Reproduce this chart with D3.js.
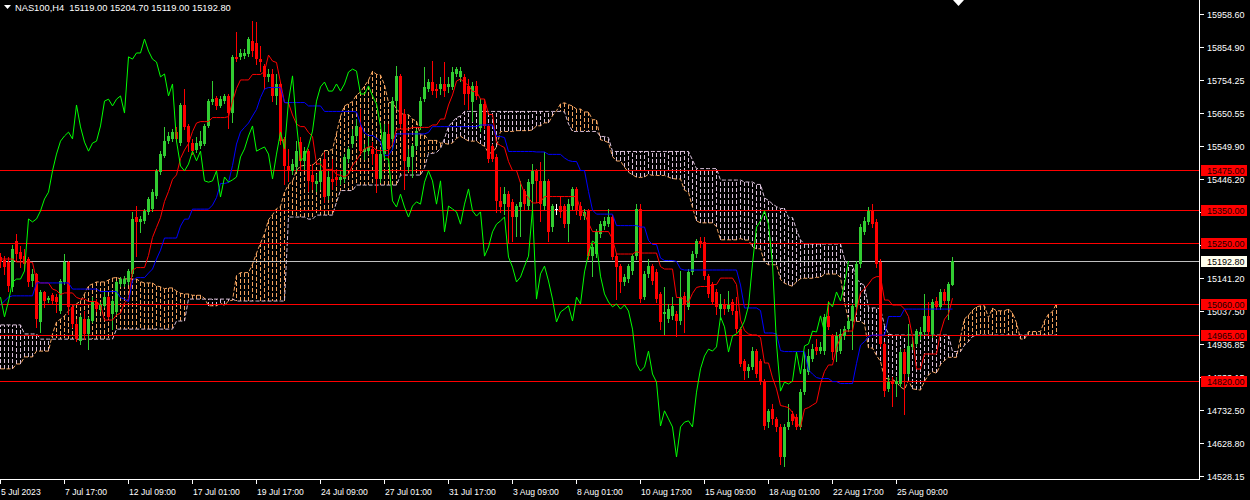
<!DOCTYPE html>
<html><head><meta charset="utf-8">
<script src="https://cdn.jsdelivr.net/npm/d3@7"></script>
<style>body{margin:0;background:#000;overflow:hidden}svg{display:block}</style>
</head><body><svg id="c" width="1250" height="500"></svg>
<script>
const opens=[15205,15196,15190,15112,15255,15221,15208,15199,15131,15153,15004,15097,15072,15088,15081,15038,15128,15190,15051,14998,14945,15013,14967,15007,15066,15041,15054,15081,15029,15035,15122,15122,15128,15153,15329,15314,15317,15345,15354,15394,15468,15518,15564,15571,15592,15558,15676,15611,15558,15537,15549,15555,15611,15685,15698,15673,15688,15704,15651,15825,15825,15828,15834,15874,15868,15818,15797,15763,15772,15704,15741,15571,15487,15472,15484,15561,15503,15533,15459,15431,15437,15509,15394,15447,15453,15444,15447,15509,15555,15580,15608,15530,15533,15540,15524,15447,15524,15586,15571,15688,15766,15648,15484,15515,15549,15611,15694,15725,15747,15725,15725,15741,15732,15732,15772,15763,15763,15735,15685,15735,15604,15679,15611,15549,15515,15379,15369,15400,15376,15329,15360,15410,15363,15431,15472,15441,15363,15441,15298,15354,15363,15363,15307,15363,15416,15363,15332,15348,15208,15215,15277,15301,15307,15329,15208,15177,15128,15137,15162,15208,15354,15081,15153,15177,15159,15091,15029,15013,15023,15029,15007,15085,15051,15159,15215,15255,15252,15146,15122,15097,15044,15057,15044,15066,15038,14982,14883,14852,14865,14914,14883,14818,14694,14735,14704,14679,14586,14679,14719,14710,14679,14787,14849,14890,14927,14914,14914,15023,14961,14911,14914,14961,14982,15007,15051,15184,15283,15314,15348,15314,15190,14936,14797,14821,14812,14812,14911,14843,14927,14936,14967,14973,15023,14967,15069,15051,15097,15069,15119];
const highs=[15218,15208,15205,15242,15277,15239,15230,15205,15168,15156,15103,15100,15085,15094,15091,15137,15215,15193,15057,15013,15026,15038,15020,15081,15075,15066,15100,15085,15075,15131,15143,15146,15168,15345,15363,15332,15354,15391,15416,15478,15533,15608,15592,15602,15608,15682,15725,15617,15571,15577,15595,15617,15694,15750,15704,15704,15710,15710,15831,15902,15849,15849,15886,15936,15933,15859,15803,15787,15787,15772,15747,15577,15540,15509,15564,15577,15546,15540,15493,15462,15503,15530,15472,15509,15478,15472,15524,15546,15602,15633,15664,15555,15577,15561,15540,15540,15617,15617,15701,15797,15772,15664,15540,15555,15602,15701,15794,15756,15812,15741,15763,15809,15763,15794,15794,15794,15772,15756,15747,15750,15694,15694,15617,15555,15524,15422,15422,15410,15385,15369,15441,15416,15447,15493,15478,15499,15530,15447,15369,15369,15394,15369,15385,15422,15422,15376,15354,15354,15246,15292,15317,15329,15354,15335,15215,15184,15153,15184,15215,15369,15369,15162,15199,15184,15168,15097,15112,15060,15081,15038,15162,15097,15168,15224,15261,15267,15267,15153,15128,15106,15091,15075,15100,15075,15081,14989,14890,14874,14927,14920,14890,14828,14735,14750,14710,14688,14688,14750,14729,14719,14797,14911,14920,14936,14951,14942,15029,15069,14967,14973,14982,14992,15020,15060,15193,15307,15329,15360,15369,15323,15199,14942,14834,14834,14834,14920,14920,14998,14951,14982,14989,15091,15066,15075,15081,15106,15106,15128,15204.7];
const lows=[15174,15153,15100,15100,15193,15174,15168,15116,15116,14989,14973,15051,15066,15063,15035,15032,15122,15029,14989,14945,14936,14951,14920,15004,15038,15038,15051,15016,14982,15029,15116,15116,15122,15146,15208,15283,15311,15338,15348,15388,15462,15515,15558,15564,15564,15552,15602,15533,15524,15530,15543,15552,15608,15679,15664,15670,15682,15605,15623,15812,15818,15821,15828,15828,15803,15781,15725,15750,15688,15679,15555,15431,15441,15462,15472,15478,15478,15410,15416,15410,15416,15376,15385,15416,15428,15431,15437,15499,15546,15571,15524,15509,15524,15493,15406,15437,15515,15509,15540,15664,15608,15416,15472,15453,15540,15602,15688,15719,15710,15701,15710,15704,15716,15725,15766,15750,15679,15664,15626,15694,15595,15605,15499,15503,15345,15345,15338,15252,15255,15270,15270,15354,15354,15348,15376,15317,15354,15255,15286,15338,15329,15298,15255,15354,15338,15323,15323,15199,15146,15205,15267,15292,15301,15199,15075,15097,15119,15128,15153,15199,15066,15075,15143,15122,15066,14982,14967,15004,15013,14961,14998,14973,15044,15153,15205,15236,15137,15081,15060,15029,15013,15029,15038,15029,14973,14868,14828,14834,14859,14834,14812,14673,14679,14688,14667,14564,14558,14673,14688,14673,14673,14781,14843,14883,14905,14908,14905,14982,14890,14883,14908,14951,14976,14920,15044,15174,15277,15307,15298,15174,14930,14775,14790,14744,14775,14806,14719,14837,14920,14930,14951,14967,14964,14958,15044,15044,15063,15013,15119];
const closes=[15190,15174,15116,15230,15215,15199,15184,15128,15153,15013,15097,15069,15078,15069,15066,15131,15190,15051,14998,14951,15020,14967,15013,15069,15044,15060,15081,15020,15069,15128,15137,15137,15162,15323,15314,15323,15348,15385,15406,15472,15524,15564,15580,15592,15571,15676,15608,15561,15533,15558,15564,15611,15688,15694,15673,15694,15704,15651,15825,15818,15837,15837,15880,15843,15818,15809,15763,15772,15704,15741,15564,15487,15472,15493,15533,15503,15533,15441,15437,15441,15472,15391,15453,15437,15444,15453,15515,15540,15580,15611,15533,15540,15546,15524,15447,15524,15592,15540,15688,15766,15617,15503,15515,15549,15595,15688,15732,15747,15719,15719,15741,15719,15741,15778,15787,15781,15710,15710,15735,15704,15679,15611,15509,15509,15379,15360,15400,15360,15329,15363,15376,15369,15437,15472,15441,15369,15441,15283,15363,15354,15345,15307,15369,15416,15348,15332,15345,15208,15236,15283,15307,15317,15329,15205,15174,15128,15143,15177,15208,15354,15075,15153,15177,15131,15075,15004,15035,15044,15054,15007,15081,15060,15159,15215,15255,15246,15146,15091,15066,15051,15060,15044,15057,15038,14982,14874,14852,14865,14914,14843,14818,14682,14729,14704,14679,14586,14679,14694,14698,14679,14787,14859,14899,14920,14914,14927,15020,14989,14911,14961,14967,14982,15007,15054,15184,15298,15317,15348,15307,15184,14936,14790,14818,14812,14821,14911,14843,14930,14936,14976,14973,15023,14973,15066,15051,15097,15069,15122,15192.8];
// Ichimoku values before enough history exists
const tenkanLead=[15199,15199,15199,15199,15190,15190,15190,15190];
const kijunLead=[15057,15069,15081,15085,15085,15085,15085,15085,15085,15125,15125,15125,15125,15125,15125,15125,15125,15125,15106,15106,15106,15106,15106,15106,15106];
const spanALead=[14859,14859,14859,14859,14874,14874,14896,14896,14896,14914,14914,14914,14914,14967,15004,15013,15023,15038,15051,15060,15069,15091,15116,15122,15128,15128];
const spanBLead=[14995,14995,14995,14995,14995,14995,14967,14967,14967,14967,14951,14951,14951,14951,14951,14951,14951,14951,14951,14951,14951,14951,14951,14951,14951,14951,14951,14951,14951,14982,14982,14982,14982,14982,14982,14982,14982,14982,14982,14982,14982,14982,14982,14982,15007,15007,15007,15075,15075,15075,15075,15075,15075,15075,15075,15075,15075,15075,15075,15069,15069,15069,15069,15069,15069,15069,15069,15069,15069,15069,15069,15069,15329,15329,15329,15329,15329];
const levels=[15475,15350,15250,15060,14965,14820];
const bid=15192.80;
const priceTicks=[15958.60,15854.90,15754.25,15650.55,15549.90,15446.20,15345.55,15241.85,15141.20,15037.50,14936.85,14833.15,14732.50,14628.80,14528.15];
const timeTickBars=[0,16,32,48,64,80,96,112,128,144,160,176,192,208,224];
const timeTickLabels=["5 Jul 2023","7 Jul 17:00","12 Jul 09:00","17 Jul 01:00","19 Jul 17:00","24 Jul 09:00","27 Jul 01:00","31 Jul 17:00","3 Aug 09:00","8 Aug 01:00","10 Aug 17:00","15 Aug 09:00","18 Aug 01:00","22 Aug 17:00","25 Aug 09:00"];
const title="NAS100,H4  15119.00 15204.70 15119.00 15192.80";

const svg=d3.select('#c');
const FONT='"Liberation Sans", Arial, sans-serif';
const plotR=1199, axisY=479;
const y=d3.scaleLinear().domain([14528.15,15958.6]).range([475.7,13.7]);
const x=d3.scaleLinear().domain([0,1]).range([0.5,4.5]);
const n=closes.length;

const tenkan=closes.map((_,i)=>i<8?tenkanLead[i]:(d3.max(highs.slice(i-8,i+1))+d3.min(lows.slice(i-8,i+1)))/2);
const kijun=closes.map((_,i)=>i<25?kijunLead[i]:(d3.max(highs.slice(i-25,i+1))+d3.min(lows.slice(i-25,i+1)))/2);
const spanA=[],spanB=[];
for(let j=0;j<n+26;j++){const k=j-26;
  spanA.push(j<26?spanALead[j]:(tenkan[k]+kijun[k])/2);
  spanB.push(j<77?spanBLead[j]:(d3.max(highs.slice(k-51,k+1))+d3.min(lows.slice(k-51,k+1)))/2);}

svg.append('rect').attr('width',1250).attr('height',500).attr('fill','#000');
svg.append('clipPath').attr('id','pc').append('rect').attr('x',0).attr('y',0).attr('width',plotR).attr('height',axisY);
const g=svg.append('g').attr('clip-path','url(#pc)');

// cloud hatch
g.append('g').attr('shape-rendering','crispEdges').selectAll('line').data(spanA).join('line')
 .attr('x1',(d,j)=>x(j)).attr('x2',(d,j)=>x(j))
 .attr('y1',d=>y(d)).attr('y2',(d,j)=>y(spanB[j]))
 .attr('stroke',(d,j)=>d>=spanB[j]?'#F4A460':'#D8BFD8').attr('stroke-width',1).attr('stroke-dasharray','4,2');
const lineGen=d3.line().x((d,j)=>x(j)).y(d=>y(d));
g.append('path').attr('d',lineGen(spanA)).attr('fill','none').attr('stroke','#F4A460').attr('stroke-dasharray','4,2');
g.append('path').attr('d',lineGen(spanB)).attr('fill','none').attr('stroke','#D8BFD8').attr('stroke-dasharray','4,2');

// horizontal levels as exact 1px rects
levels.forEach(l=>g.append('rect').attr('x',0).attr('width',plotR).attr('y',Math.round(y(l))).attr('height',1).attr('fill','#FF0000'));
g.append('rect').attr('x',0).attr('width',plotR).attr('y',Math.round(y(bid))).attr('height',1).attr('fill','#C0C0C0');

// candles
const col=i=>closes[i]>opens[i]?'#32CD32':(closes[i]<opens[i]?'#FF0000':'#FFFFFF');
const cg=g.append('g').attr('shape-rendering','crispEdges');
cg.selectAll('rect.w').data(closes).join('rect').attr('class','w')
 .attr('x',(d,i)=>x(i)-0.5).attr('width',1)
 .attr('y',(d,i)=>Math.round(y(highs[i])))
 .attr('height',(d,i)=>Math.round(y(lows[i]))-Math.round(y(highs[i]))+1)
 .attr('fill',(d,i)=>col(i));
cg.selectAll('rect.b').data(closes).join('rect').attr('class','b')
 .attr('x',(d,i)=>x(i)-1.5).attr('width',3)
 .attr('y',(d,i)=>Math.round(y(Math.max(opens[i],closes[i]))))
 .attr('height',(d,i)=>Math.max(1,Math.round(Math.abs(y(opens[i])-y(closes[i])))))
 .attr('fill',(d,i)=>col(i));

// ichimoku lines
g.append('path').attr('d',lineGen(tenkan)).attr('fill','none').attr('stroke','#FF0000');
g.append('path').attr('d',lineGen(kijun)).attr('fill','none').attr('stroke','#0000FF');
const chikou=closes.slice(26);
g.append('path').attr('d',lineGen(chikou)).attr('fill','none').attr('stroke','#00FF00');

// axes
const ax=svg.append('g').attr('shape-rendering','crispEdges');
ax.append('rect').attr('x',plotR).attr('y',0).attr('width',1).attr('height',axisY+1).attr('fill','#fff');
ax.append('rect').attr('x',0).attr('y',axisY).attr('width',plotR+1).attr('height',1).attr('fill','#fff');
priceTicks.forEach(p=>{const yy=Math.round(y(p));
  ax.append('rect').attr('x',plotR+1).attr('y',yy).attr('width',4).attr('height',1).attr('fill','#fff');
  svg.append('text').attr('x',1207).attr('y',yy+3.8).attr('fill','#fff').attr('font-family',FONT).attr('font-size','9px').text(p.toFixed(2));});
timeTickBars.forEach((b,k)=>{const xx=Math.round(x(b)-0.5);
  ax.append('rect').attr('x',xx).attr('y',axisY+1).attr('width',1).attr('height',4).attr('fill','#fff');
  svg.append('text').attr('x',xx+1).attr('y',495).attr('fill','#fff').attr('font-family',FONT).attr('font-size','8.6px').text(timeTickLabels[k]);});

// level labels
levels.forEach(l=>{const yy=Math.round(y(l));
  svg.append('rect').attr('x',1201).attr('y',yy-5).attr('width',46).attr('height',11).attr('fill','#FF0000');
  svg.append('text').attr('x',1207).attr('y',yy+3.8).attr('fill','#200000').attr('font-family',FONT).attr('font-size','9px').text(l.toFixed(2));});
{const yy=Math.round(y(bid));
  svg.append('rect').attr('x',1201).attr('y',yy-5).attr('width',46).attr('height',11).attr('fill','#FFFFEE');
  svg.append('text').attr('x',1207).attr('y',yy+3.8).attr('fill','#000').attr('font-family',FONT).attr('font-size','9px').text(bid.toFixed(2));}

// title
svg.append('polygon').attr('points','4,5 11,5 7.5,9').attr('fill','#fff');
svg.append('text').attr('x',15).attr('y',11).attr('fill','#fff').attr('font-family',FONT).attr('font-size','9.3px').attr('xml:space','preserve').style('white-space','pre').text(title);
svg.append('polygon').attr('points','953,0 964,0 958.5,6').attr('fill','#fff');
</script></body></html>
